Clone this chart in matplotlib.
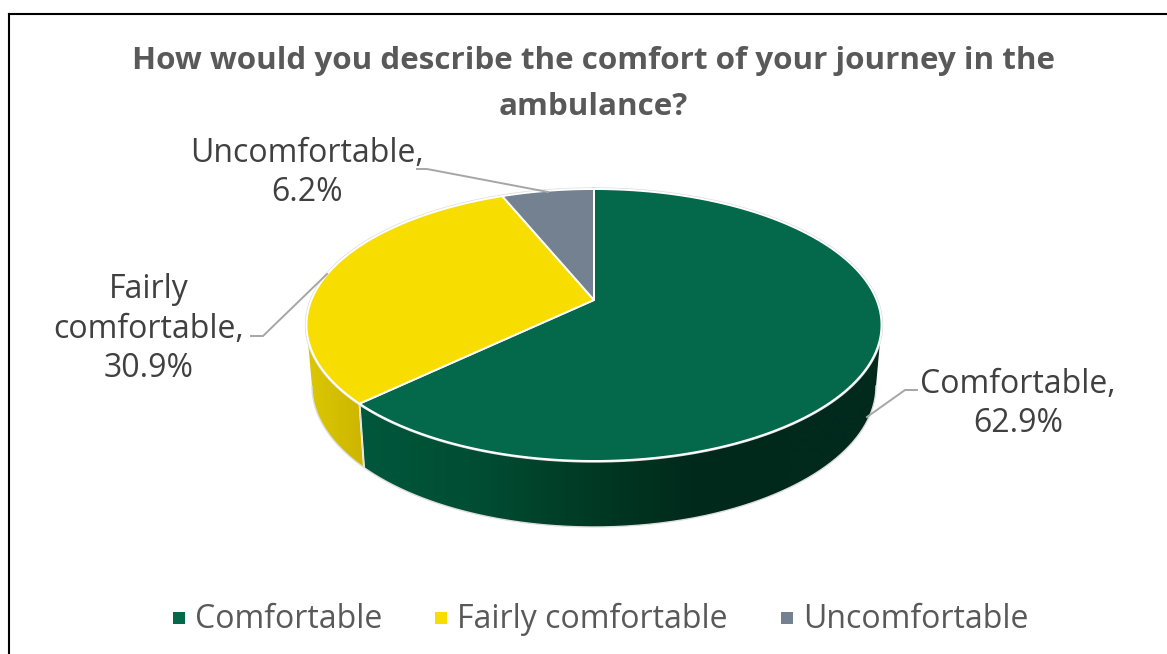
import numpy as np
import matplotlib
matplotlib.use("Agg")
import matplotlib.pyplot as plt
from matplotlib.colors import to_rgb
from matplotlib.patches import Polygon

categories = ["Comfortable", "Fairly comfortable", "Uncomfortable"]
values = [62.9, 30.9, 6.2]
colors = ["#03694A", "#F8DD00", "#738190"]
title_lines = ["How would you describe the comfort of your journey in the", "ambulance?"]

W, H = 1167, 654
fig = plt.figure(figsize=(W / 100, H / 100), dpi=100)
ax = fig.add_axes([0, 0, 1, 1])
FONT = "Open Sans"

# perspective projection of the unit disc
CX, AY = 594.0, 300.0
A, B, P = 282.6, 131.4, 0.1838
TOPE = (594.0, 325.0, 287.5, 136.0)
BOTE = (594.0, 386.0, 282.0, 141.0)


def project(theta):
    X, Y = np.sin(theta), np.cos(theta)
    d = 1 + P * Y
    return CX + A * X / d, AY - B * Y / d


def to_bottom(x, y):
    c = (x - TOPE[0]) / TOPE[2]
    s = (y - TOPE[1]) / TOPE[3]
    return BOTE[0] + BOTE[2] * c, BOTE[1] + BOTE[3] * s


wall_stops = {
    0: ([365, 480, 600, 700, 880], ["#01573B", "#004D33", "#013823", "#00291B", "#02291D"]),
    1: ([306, 365], ["#DCC800", "#CDB500"]),
}


def wall_image(i):
    xs, cs = wall_stops[i]
    rgb = np.array([to_rgb(c) for c in cs])
    grid = np.arange(0, W + 1)
    return np.stack([np.interp(grid, xs, rgb[:, k]) for k in range(3)], axis=-1)[None, :, :]


fractions = np.array(values) / sum(values)
edges = np.concatenate([[0], np.cumsum(fractions)]) * 2 * np.pi

th = np.linspace(0, 2 * np.pi, 720)
tx, ty = project(th)

# side walls
for i in range(len(values)):
    t = np.linspace(edges[i], edges[i + 1], 800)
    x, y = project(t)
    front = y >= TOPE[1]
    if not front.any():
        continue
    x, y = x[front], y[front]
    bx, by = to_bottom(x, y)
    outline = np.column_stack([np.r_[x, bx[::-1]], np.r_[y, by[::-1]]])
    clip = Polygon(outline, closed=True, transform=ax.transData, facecolor="none", edgecolor="none")
    ax.add_patch(clip)
    im = ax.imshow(wall_image(i), extent=(0, W, H, 0), aspect="auto", interpolation="bilinear", zorder=2)
    im.set_clip_path(clip)
    ax.plot(bx, by, color="#DDDDDD", lw=1.0, zorder=3)
    if i == 1:
        ax.plot(outline[[0, -1], 0], outline[[0, -1], 1], color="#DDDDDD", lw=0.8, zorder=3)
    if i == 0:
        ax.plot([x[-1], bx[-1]], [y[-1], by[-1]], color="white", lw=1.4, zorder=3)

# top face
ax.plot(tx, ty, color="#DDDDDD", lw=2.4, zorder=3.5)
for i in range(len(values)):
    t = np.linspace(edges[i], edges[i + 1], 400)
    x, y = project(t)
    pts = np.column_stack([np.r_[CX, x], np.r_[AY, y]])
    ax.add_patch(Polygon(pts, closed=True, facecolor=colors[i], edgecolor="white",
                         linewidth=1.4, joinstyle="round", zorder=4))

# title
for line, yb in zip(title_lines, [69, 115]):
    ax.text(593.5, yb, line, ha="center", va="baseline", fontsize=22.6, fontweight="bold",
            color="#595959", family=FONT, zorder=6)

# data labels
label_col = "#404040"
label_texts = [
    [f"{categories[0]},", f"{values[0]}%"],
    ["Fairly", "comfortable,", f"{values[1]}%"],
    [f"{categories[2]},", f"{values[2]}%"],
]
label_x = [1018, 149, 307]
label_base = [[393, 432], [298, 338, 377], [162, 201]]
for lines, xc, bases in zip(label_texts, label_x, label_base):
    for line, yb in zip(lines, bases):
        ax.text(xc, yb, line, ha="center", va="baseline", fontsize=23, color=label_col, family=FONT, zorder=6)

# leader lines
leader_x = [[917, 905, 867], [251, 263, 327], [417, 427, 548]]
leader_y = [[390, 390, 417], [336, 336, 274], [169, 169, 192]]
for lx, ly in zip(leader_x, leader_y):
    ax.plot(lx, ly, color="#A6A6A6", lw=1.4, zorder=5, solid_joinstyle="miter")

# legend
legend_mark_x = [179, 441, 787]
legend_text_x = [195, 457, 803]
for c, name, mx, tx_ in zip(colors, categories, legend_mark_x, legend_text_x):
    ax.plot([mx], [618], marker="s", ms=8.6, color=c, mew=0, zorder=6)
    ax.text(tx_, 628, name, ha="left", va="baseline", fontsize=23, color="#595959", family=FONT, zorder=6)

# frame
ax.plot([8.5, W], [13.5, 13.5], color="black", lw=1.5, zorder=7, clip_on=False)
ax.plot([8.5, 8.5], [13.5, H], color="black", lw=1.5, zorder=7, clip_on=False)

ax.set_xlim(0, W)
ax.set_ylim(H, 0)
ax.axis("off")
fig.savefig("out.png", dpi=100, facecolor="white")
